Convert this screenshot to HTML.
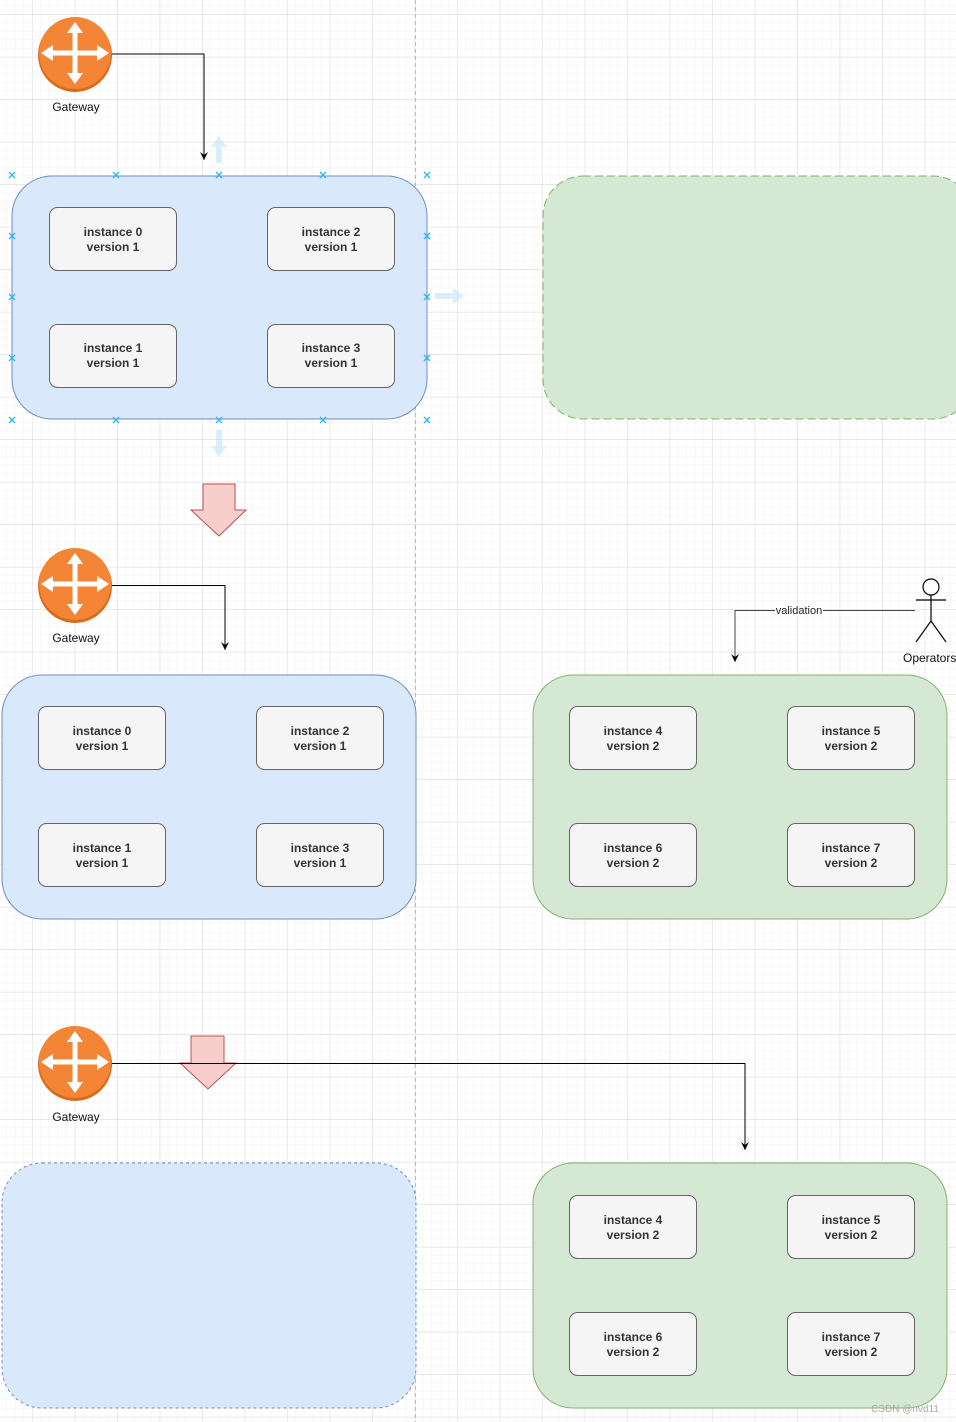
<!DOCTYPE html>
<html><head><meta charset="utf-8"><style>
html,body{margin:0;padding:0;background:#fff;}
svg{display:block;}
text{font-family:"Liberation Sans",Arial,sans-serif;}
.b{font-size:12px;font-weight:bold;fill:#333;text-anchor:middle;}
.l{font-size:12px;fill:#111;text-anchor:middle;}
</style></head><body>
<svg width="956" height="1422" viewBox="0 0 956 1422" xmlns="http://www.w3.org/2000/svg">
<defs>
<pattern id="minor" x="32.3" y="14.5" width="8.5" height="8.5" patternUnits="userSpaceOnUse">
<path d="M8.5 0V8.5H0" fill="none" stroke="#f0f0f0" stroke-width="1"/>
</pattern>
<pattern id="major" x="32.3" y="14.5" width="42.5" height="42.5" patternUnits="userSpaceOnUse">
<path d="M0 0V42.5M0 0H42.5" fill="none" stroke="#e0e0e0" stroke-width="1"/>
</pattern>
<marker id="ah" markerWidth="10" markerHeight="10" refX="5" refY="9" orient="0" markerUnits="userSpaceOnUse">
<path d="M1 1L5 9L9 1L5 4Z" fill="#000"/>
</marker>
<g id="gw">
<circle cx="0" cy="2" r="37" fill="#d86a1c"/>
<circle cx="0" cy="0" r="36" fill="#f58536"/>
<g fill="#fff" stroke="none">
<rect x="-2.5" y="-22" width="5" height="44"/>
<rect x="-28" y="-2.5" width="56" height="5"/>
<path d="M0 -31L-8 -20H8Z"/><path d="M0 31L-8 20H8Z"/>
<path d="M-34 0L-22 -8V8Z"/><path d="M34 0L22 -8V8Z"/>
</g>
</g>
<g id="xm" stroke="#29b6f6" stroke-width="1.3"><path d="M-3 -3L3 3M-3 3L3 -3"/></g>
</defs>
<rect width="956" height="1422" fill="url(#minor)"/>
<rect width="956" height="1422" fill="url(#major)"/>
<line x1="415.5" y1="0" x2="415.5" y2="1422" stroke="#bbb" stroke-dasharray="4 3"/>

<!-- Section 1 -->
<use href="#gw" x="75" y="53"/>
<text class="l" x="76" y="111">Gateway</text>
<path d="M112 54H204V160" fill="none" stroke="#000" marker-end="url(#ah)"/>
<rect x="12" y="176" width="415" height="243" rx="40" fill="#dae8fc" stroke="#6c8ebf"/>
<rect x="543" y="176" width="430" height="243" rx="40" fill="#d5e8d4" stroke="#82b366" stroke-dasharray="8 4"/>
<g opacity="0.5" fill="#b3e0fa">
<path d="M216 163V147H211L219 136L227 147H222V163Z"/>
<path d="M435 293H453V288L464 296L453 304V299H435Z"/>
<path d="M216 430V446H211L219 457L227 446H222V430Z"/>
</g>
<use href="#xm" x="12" y="175"/><use href="#xm" x="116" y="175"/><use href="#xm" x="219" y="175"/><use href="#xm" x="323" y="175"/><use href="#xm" x="427" y="175"/>
<use href="#xm" x="12" y="236"/><use href="#xm" x="427" y="236"/>
<use href="#xm" x="12" y="297"/><use href="#xm" x="427" y="297"/>
<use href="#xm" x="12" y="358"/><use href="#xm" x="427" y="358"/>
<use href="#xm" x="12" y="420"/><use href="#xm" x="116" y="420"/><use href="#xm" x="219" y="420"/><use href="#xm" x="323" y="420"/><use href="#xm" x="427" y="420"/>
<g fill="#f5f5f5" stroke="#666">
<rect x="49.5" y="207.5" width="127" height="63" rx="8"/>
<rect x="267.5" y="207.5" width="127" height="63" rx="8"/>
<rect x="49.5" y="324.5" width="127" height="63" rx="8"/>
<rect x="267.5" y="324.5" width="127" height="63" rx="8"/>
</g>
<text class="b" x="113" y="236">instance 0</text><text class="b" x="113" y="251">version 1</text>
<text class="b" x="331" y="236">instance 2</text><text class="b" x="331" y="251">version 1</text>
<text class="b" x="113" y="352">instance 1</text><text class="b" x="113" y="367">version 1</text>
<text class="b" x="331" y="352">instance 3</text><text class="b" x="331" y="367">version 1</text>
<path d="M203 484H235V510H246L219 536L191 510H203Z" fill="#f8cecc" stroke="#b85450"/>

<!-- Section 2 -->
<use href="#gw" x="75" y="584"/>
<text class="l" x="76" y="642">Gateway</text>
<path d="M112 585.5H225V650" fill="none" stroke="#000" marker-end="url(#ah)"/>
<rect x="2" y="675" width="414" height="244" rx="40" fill="#dae8fc" stroke="#6c8ebf"/>
<rect x="533" y="675" width="414" height="244" rx="40" fill="#d5e8d4" stroke="#82b366"/>
<g fill="#f5f5f5" stroke="#666">
<rect x="38.5" y="706.5" width="127" height="63" rx="8"/>
<rect x="256.5" y="706.5" width="127" height="63" rx="8"/>
<rect x="38.5" y="823.5" width="127" height="63" rx="8"/>
<rect x="256.5" y="823.5" width="127" height="63" rx="8"/>
<rect x="569.5" y="706.5" width="127" height="63" rx="8"/>
<rect x="787.5" y="706.5" width="127" height="63" rx="8"/>
<rect x="569.5" y="823.5" width="127" height="63" rx="8"/>
<rect x="787.5" y="823.5" width="127" height="63" rx="8"/>
</g>
<text class="b" x="102" y="735">instance 0</text><text class="b" x="102" y="750">version 1</text>
<text class="b" x="320" y="735">instance 2</text><text class="b" x="320" y="750">version 1</text>
<text class="b" x="102" y="852">instance 1</text><text class="b" x="102" y="867">version 1</text>
<text class="b" x="320" y="852">instance 3</text><text class="b" x="320" y="867">version 1</text>
<text class="b" x="633" y="735">instance 4</text><text class="b" x="633" y="750">version 2</text>
<text class="b" x="851" y="735">instance 5</text><text class="b" x="851" y="750">version 2</text>
<text class="b" x="633" y="852">instance 6</text><text class="b" x="633" y="867">version 2</text>
<text class="b" x="851" y="852">instance 7</text><text class="b" x="851" y="867">version 2</text>
<path d="M915 610.5H735V662" fill="none" stroke="#444" marker-end="url(#ah)"/>
<rect x="775" y="604" width="48" height="12" fill="#fff"/>
<text x="799" y="614" font-size="11" text-anchor="middle" fill="#222">validation</text>
<g stroke="#000" fill="none" stroke-width="1.2">
<circle cx="931" cy="587" r="8"/>
<path d="M931 595V621M916 600H946M931 621L916 642M931 621L946 642"/>
</g>
<text x="903" y="662" font-size="12" fill="#111">Operators</text>

<!-- Section 3 -->
<use href="#gw" x="75" y="1062"/>
<text class="l" x="76" y="1121">Gateway</text>
<rect x="2" y="1163" width="414" height="245" rx="40" fill="#dae8fc" stroke="#6c8ebf" stroke-dasharray="3 3"/>
<rect x="533" y="1163" width="414" height="245" rx="40" fill="#d5e8d4" stroke="#82b366"/>
<path d="M191 1036H224V1063H236L208 1089L180 1063H191Z" fill="#f8cecc" stroke="#b85450"/>
<path d="M112 1063.5H745V1150" fill="none" stroke="#000" marker-end="url(#ah)"/>
<g fill="#f5f5f5" stroke="#666">
<rect x="569.5" y="1195.5" width="127" height="63" rx="8"/>
<rect x="787.5" y="1195.5" width="127" height="63" rx="8"/>
<rect x="569.5" y="1312.5" width="127" height="63" rx="8"/>
<rect x="787.5" y="1312.5" width="127" height="63" rx="8"/>
</g>
<text class="b" x="633" y="1224">instance 4</text><text class="b" x="633" y="1239">version 2</text>
<text class="b" x="851" y="1224">instance 5</text><text class="b" x="851" y="1239">version 2</text>
<text class="b" x="633" y="1341">instance 6</text><text class="b" x="633" y="1356">version 2</text>
<text class="b" x="851" y="1341">instance 7</text><text class="b" x="851" y="1356">version 2</text>
<text x="905" y="1412" font-size="10" fill="#aaa" text-anchor="middle">CSDN @nvd11</text>
</svg>
</body></html>
